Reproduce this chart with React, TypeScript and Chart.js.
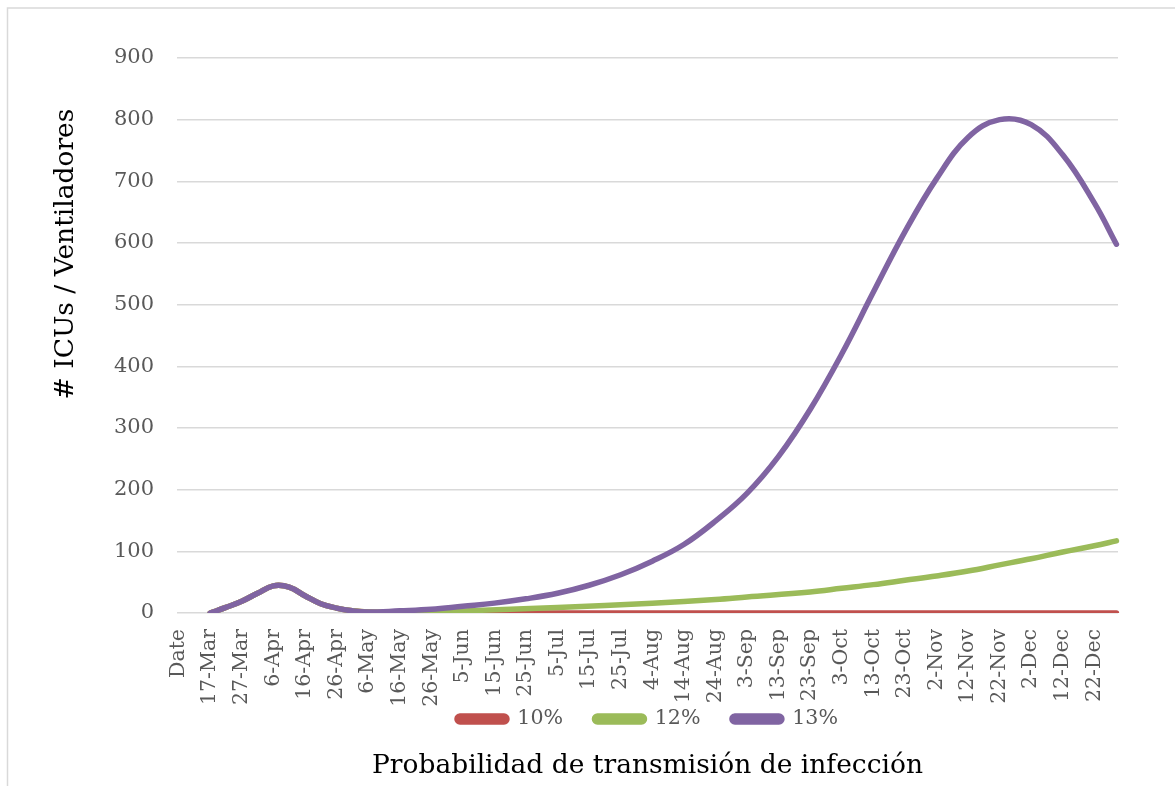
import React, { useEffect, useRef } from "react";
import { Chart, registerables } from "chart.js";

Chart.register(...registerables);

// ---- tick labels / categories ----
const MONTHS = ["Jan", "Feb", "Mar", "Apr", "May", "Jun", "Jul", "Aug", "Sep", "Oct", "Nov", "Dec"];
const FIRST_DATE = [2020, 2, 8]; // 8-Mar
const DAY_COUNT = 297; // 8-Mar .. 29-Dec
function buildCategories(): string[] {
  const out = ["Date"];
  for (let k = 0; k < DAY_COUNT; k++) {
    const d = new Date(Date.UTC(FIRST_DATE[0], FIRST_DATE[1], FIRST_DATE[2] + k));
    out.push(`${d.getUTCDate()}-${MONTHS[d.getUTCMonth()]}`);
  }
  return out;
}
const categories = buildCategories();

const yTicks = [0, 900, 100]; // min, max, step
const seriesNames = ["10%", "12%", "13%"];
const seriesColors = ["#C0504D", "#9BBB59", "#8064A2"];
const yAxisTitle = "# ICUs / Ventiladores";
const xAxisTitle = "Probabilidad de transmisión de infección";

// ---- series values ----
// early wave shared by all three scenarios
const earlyDates = ["17-Mar", "22-Mar", "27-Mar", "1-Apr", "6-Apr", "11-Apr", "16-Apr", "21-Apr", "26-Apr", "1-May", "6-May"];
const earlyValues = [0, 9, 19, 32, 44, 42, 28, 15, 8, 3.5, 1.5];

const dates10 = [...earlyDates, "16-May", "5-Jun", "29-Dec"];
const values10 = [...earlyValues, 0.5, 0, 0];

const dates12 = [...earlyDates, "16-May", "26-May", "5-Jun", "5-Jul", "4-Aug", "24-Aug", "3-Sep", "23-Sep", "3-Oct", "13-Oct", "23-Oct", "2-Nov", "12-Nov", "22-Nov", "2-Dec", "12-Dec", "22-Dec", "29-Dec"];
const values12 = [...earlyValues, 1.5, 2.2, 3.4, 9, 16, 22, 26, 34, 40, 46, 53, 60, 68, 78, 88, 99, 109, 117];

const dates13 = [...earlyDates, "16-May", "26-May", "5-Jun", "15-Jun", "25-Jun", "5-Jul", "15-Jul", "25-Jul", "4-Aug", "14-Aug", "24-Aug", "3-Sep", "13-Sep", "23-Sep", "3-Oct", "13-Oct", "23-Oct", "2-Nov", "12-Nov", "22-Nov", "2-Dec", "12-Dec", "22-Dec", "29-Dec"];
const values13 = [...earlyValues, 3.5, 6, 11, 16, 23, 32, 45, 62, 84, 111, 149, 194, 254, 330, 420, 520, 618, 704, 771, 800, 792, 743, 665, 598];

const FONT = "'DejaVu Serif', serif";

function toPoints(dates: string[], values: number[]) {
  return dates.map((d, i) => ({ x: d, y: values[i] }));
}

const decorPlugin = {
  id: "decor",
  beforeDraw(chart: any) {
    const ctx = chart.ctx;
    ctx.save();
    ctx.fillStyle = "#ffffff";
    ctx.fillRect(0, 0, chart.width, chart.height);
    ctx.strokeStyle = "#d9d9d9";
    ctx.lineWidth = 1.5;
    ctx.beginPath();
    ctx.moveTo(7.5, chart.height);
    ctx.lineTo(7.5, 8);
    ctx.lineTo(chart.width, 8);
    ctx.stroke();
    ctx.restore();
  },
  afterDraw(chart: any) {
    const ctx = chart.ctx;
    ctx.save();
    ctx.translate(72.5, 254);
    ctx.rotate(-Math.PI / 2);
    ctx.font = `26.5px ${FONT}`;
    ctx.fillStyle = "#000000";
    ctx.textAlign = "center";
    ctx.textBaseline = "alphabetic";
    ctx.fillText(yAxisTitle, 0, 0);
    ctx.restore();
  },
};

export default function App() {
  const canvasRef = useRef<HTMLCanvasElement | null>(null);

  useEffect(() => {
    document.body.style.margin = "0";
    const canvas = canvasRef.current;
    if (!canvas) return;
    const datasets = [
      { data: toPoints(dates10, values10), order: 3 },
      { data: toPoints(dates12, values12), order: 2 },
      { data: toPoints(dates13, values13), order: 1 },
    ].map((d, i) => ({
      label: seriesNames[i],
      data: d.data,
      order: d.order,
      borderColor: seriesColors[i],
      backgroundColor: seriesColors[i],
      borderWidth: 5.5,
      borderCapStyle: "round" as const,
      borderJoinStyle: "round" as const,
      pointRadius: 0,
      pointHoverRadius: 0,
      tension: 0.4,
      fill: false,
    }));

    const chart = new Chart(canvas, {
      type: "line",
      data: { labels: categories, datasets },
      plugins: [decorPlugin],
      options: {
        animation: false,
        responsive: false,
        devicePixelRatio: 1,
        layout: { padding: { top: 58, right: 57, left: 0, bottom: 0 } },
        scales: {
          x: {
            type: "category",
            offset: true,
            grid: { display: false, drawTicks: false },
            border: { display: false },
            afterFit: (scale: any) => {
              scale.height = 64.3;
              scale._computeLabelArea = () => undefined;
            },
            ticks: {
              autoSkip: false,
              minRotation: 90,
              maxRotation: 90,
              padding: 16,
              color: "#595959",
              font: { family: FONT, size: 20.5 },
              callback: (_v: any, index: number) => (index % 10 === 0 ? categories[index] : null),
            },
          },
          y: {
            min: yTicks[0],
            max: yTicks[1],
            afterFit: (scale: any) => {
              scale.width = 177;
            },
            grid: { color: "#d9d9d9", lineWidth: 1.5, drawTicks: false },
            border: { display: false },
            ticks: {
              stepSize: yTicks[2],
              padding: 23,
              color: "#595959",
              font: { family: FONT, size: 21 },
            },
          },
        },
        plugins: {
          legend: {
            position: "bottom",
            fullSize: false,
            labels: {
              boxWidth: 50,
              boxHeight: 6,
              useBorderRadius: true,
              borderRadius: 3,
              padding: 31.4,
              color: "#595959",
              font: { family: FONT, size: 20.6 },
              sort: (a: any, b: any) => a.datasetIndex - b.datasetIndex,
            },
          },
          title: {
            display: true,
            position: "bottom",
            fullSize: false,
            text: xAxisTitle,
            color: "#000000",
            font: { family: FONT, size: 26.5, weight: "normal" },
            padding: { top: 10.8, bottom: 4.1 },
          },
          tooltip: { enabled: false },
        },
      },
    });
    return () => chart.destroy();
  }, []);

  return (
    <div style={{ width: 1175, height: 786, position: "relative" }}>
      <canvas ref={canvasRef} width={1175} height={786} style={{ display: "block", width: 1175, height: 786 }} />
    </div>
  );
}
